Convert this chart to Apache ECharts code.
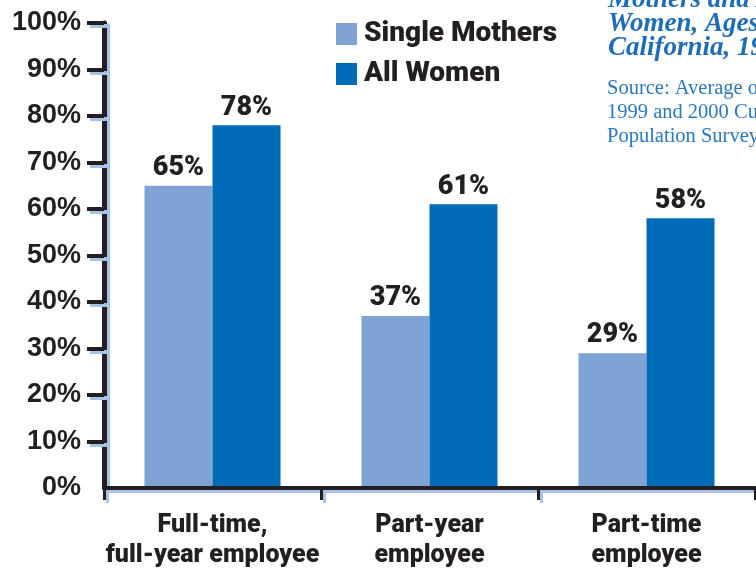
<!DOCTYPE html>
<html><head><meta charset="utf-8">
<script src="https://cdn.jsdelivr.net/npm/echarts@6/dist/echarts.min.js"></script>
<style>html,body{margin:0;padding:0;background:#fff}#c{width:756px;height:571px}</style>
</head><body><div id="c"></div>
<script>
const categories = ['Full-time,\nfull-year employee', 'Part-year\nemployee', 'Part-time\nemployee'];
const seriesNames = ['Single Mothers', 'All Women'];
const singleMothers = [65, 37, 29];
const allWomen = [78, 61, 58];
const yLabelValues = [0, 10, 20, 30, 40, 50, 60, 70, 80, 90, 100];
const yTickValues = [10, 20, 30, 40, 50, 60, 70, 80, 90, 100];
const titleLines = ['Mothers and All', 'Women, Ages 18\u201364,', 'California, 1999\u20132000'];
const sourceLines = ['Source: Average of the', '1999 and 2000 Current', 'Population Survey'];

const INK = '#231f20';
const SHADOW = '#a6c2e6';
const NARROW = "Roboto, 'Liberation Sans', sans-serif";
const lineShadow = { shadowColor: SHADOW, shadowOffsetX: 3, shadowOffsetY: 3, shadowBlur: 0 };

const chart = echarts.init(document.getElementById('c'), null, { renderer: 'canvas' });
chart.setOption({
  animation: false,
  backgroundColor: '#fff',
  grid: { left: 104, right: 1, top: 23, bottom: 78, containLabel: false },
  legend: {
    orient: 'vertical', left: 336, top: 20, padding: 0,
    itemWidth: 21, itemHeight: 22, itemGap: 12, icon: 'rect',
    data: seriesNames,
    textStyle: { fontFamily: NARROW, fontWeight: 900, fontSize: 28, color: INK, lineHeight: 26, padding: [0, 0, 0, 2] }
  },
  graphic: [
    { type: 'text', left: 608, top: -13, silent: true,
      style: { text: titleLines.join('\n'), font: "italic bold 27px 'Liberation Serif', serif", fill: '#1f6db5', lineHeight: 24 } },
    { type: 'text', left: 607, top: 77, silent: true,
      style: { text: sourceLines.join('\n'), font: "20.5px 'Liberation Serif', serif", fill: '#2a78be', lineHeight: 24 } }
  ],
  xAxis: {
    type: 'category', data: categories, z: 5,
    axisLine: { show: true, lineStyle: Object.assign({ color: INK, width: 4 }, lineShadow) },
    axisTick: { show: true, alignWithLabel: false, length: 12, lineStyle: Object.assign({ color: INK, width: 3 }, lineShadow) },
    axisLabel: { interval: 0, margin: 23, fontFamily: NARROW, fontWeight: 900, fontSize: 25, color: INK, lineHeight: 30 }
  },
  yAxis: {
    type: 'value', min: 0, max: 100, interval: 10, z: 5,
    splitLine: { show: false },
    axisLine: { show: true, lineStyle: Object.assign({ color: INK, width: 5 }, lineShadow) },
    axisTick: { show: true, length: 17, customValues: yTickValues, lineStyle: Object.assign({ color: INK, width: 4 }, lineShadow) },
    axisLabel: { margin: 23, customValues: yLabelValues, formatter: '{value}%', fontFamily: "'Liberation Sans', Arial, sans-serif", fontWeight: 'bold', fontSize: 27, color: INK }
  },
  series: [
    { name: seriesNames[0], type: 'bar', data: singleMothers, barWidth: 68, barGap: '0%',
      itemStyle: { color: '#7fa3d5' },
      label: { show: true, position: 'top', distance: 4, formatter: '{c}%', fontFamily: NARROW, fontWeight: 900, fontSize: 27, color: INK } },
    { name: seriesNames[1], type: 'bar', data: allWomen, barWidth: 68, barGap: '0%',
      itemStyle: { color: '#006bb6' },
      label: { show: true, position: 'top', distance: 4, formatter: '{c}%', fontFamily: NARROW, fontWeight: 900, fontSize: 27, color: INK } }
  ]
});
</script></body></html>
